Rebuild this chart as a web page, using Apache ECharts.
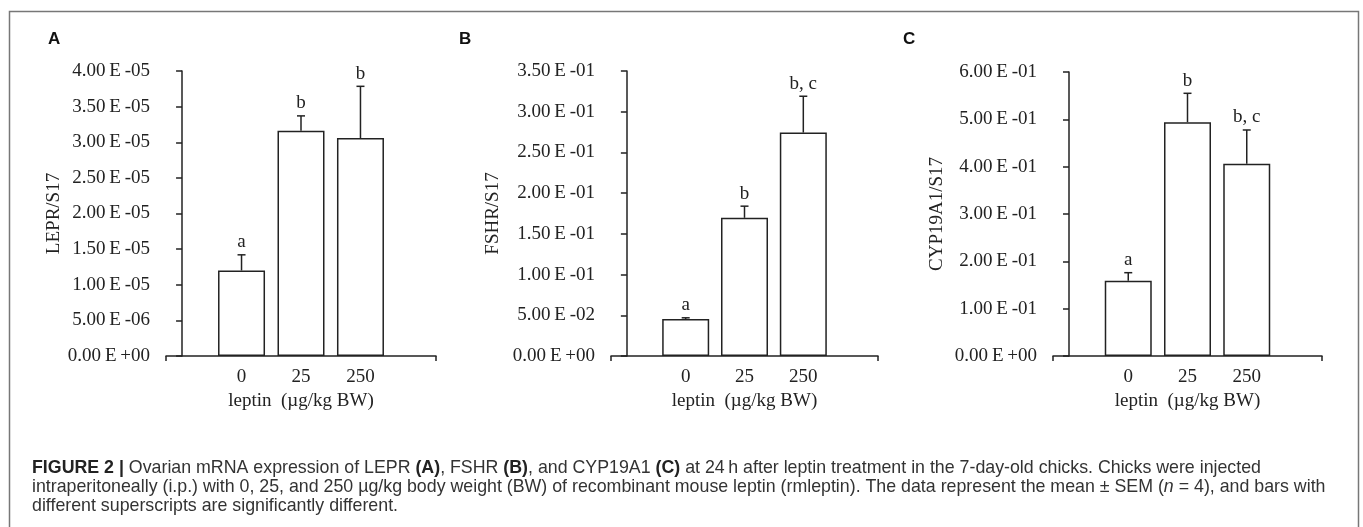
<!DOCTYPE html>
<html>
<head>
<meta charset="utf-8">
<title>Figure 2</title>
<style>
  html, body { margin: 0; padding: 0; background: #fff; }
  #main { width: 1363px; height: 527px; }
</style>
<script src="https://cdn.jsdelivr.net/npm/echarts@6/dist/echarts.min.js"></script>
</head>
<body>
<div id="main"></div>
<script>
// leptin doses (x categories)
var doses = ['0', '25', '250'];

// A: LEPR/S17
var leprMean = [1.20e-5, 3.16e-5, 3.06e-5];
var leprSem = [0.22e-5, 0.21e-5, 0.725e-5];
var leprSig = ['a', 'b', 'b'];

// B: FSHR/S17
var fshrMean = [0.0454, 0.1697, 0.2744];
var fshrSem = [0.0015, 0.0143, 0.0446];
var fshrSig = ['a', 'b', 'b, c'];

// C: CYP19A1/S17
var cypMean = [0.159, 0.494, 0.406];
var cypSem = [0.017, 0.061, 0.0715];
var cypSig = ['a', 'b', 'b, c'];

var panels = [
  { letter: 'A', name: 'LEPR/S17', mean: leprMean, sem: leprSem, sig: leprSig, max: 4e-5, step: 5e-6,
    grid: { left: 166, right: 927, top: 71, bottom: 171 }, nameGap: 102 },
  { letter: 'B', name: 'FSHR/S17', mean: fshrMean, sem: fshrSem, sig: fshrSig, max: 0.35, step: 0.05,
    grid: { left: 611, right: 485, top: 71, bottom: 171 }, nameGap: 108 },
  { letter: 'C', name: 'CYP19A1/S17', mean: cypMean, sem: cypSem, sig: cypSig, max: 0.6, step: 0.1,
    grid: { left: 1053, right: 41, top: 72, bottom: 171 }, nameGap: 106 }
];

var xMin = -0.27, xMax = 4.27;
var ink = '#222';
var serif = 'Liberation Serif';

function sci(v) {
  // Excel style 4.00E-05 (thin spaces mimic the wide original lettering)
  var s = Number(v).toExponential(2).split('e');
  var exp = parseInt(s[1], 10);
  var e = (exp < 0 ? '-' : '+') + (Math.abs(exp) < 10 ? '0' : '') + Math.abs(exp);
  return s[0] + '\u2009E\u2009' + e;
}

var myChart = echarts.init(document.getElementById('main'));

var grids = [], xAxes = [], yAxes = [], series = [], titles = [];
var letterX = [43, 454, 898];

panels.forEach(function (p, k) {
  grids.push(p.grid);
  xAxes.push({
    type: 'value', gridIndex: k, min: xMin, max: xMax,
    name: 'leptin  (\u00b5g/kg BW)', nameLocation: 'middle', nameGap: 31,
    nameTextStyle: { fontFamily: serif, fontSize: 19, color: ink },
    splitLine: { show: false },
    axisLine: { show: true, lineStyle: { color: ink, width: 1.5 } },
    axisTick: { show: true, customValues: [xMin, xMax], length: 5, lineStyle: { color: ink, width: 1.5 } },
    axisLabel: {
      customValues: [1, 2, 3], margin: 12,
      fontFamily: serif, fontSize: 19, color: ink,
      formatter: function (v) { return doses[Math.round(v) - 1]; }
    }
  });
  yAxes.push({
    type: 'value', gridIndex: k, min: 0, max: p.max, interval: p.step,
    name: p.name, nameLocation: 'middle', nameGap: p.nameGap, nameRotate: 90,
    nameTextStyle: { fontFamily: serif, fontSize: 19, color: ink },
    splitLine: { show: false },
    axisLine: { show: true, lineStyle: { color: ink, width: 1.5 } },
    axisTick: { show: true, length: 6, lineStyle: { color: ink, width: 1.5 } },
    axisLabel: { margin: 16, fontFamily: serif, fontSize: 19, color: ink, formatter: sci }
  });

  series.push({
    type: 'bar', xAxisIndex: k, yAxisIndex: k, barWidth: 47,
    itemStyle: { color: '#fff', borderColor: ink, borderWidth: 1.5 },
    data: p.mean.map(function (v, i) { return [i + 1, v]; }),
    animation: false
  });

  series.push({
    type: 'custom', xAxisIndex: k, yAxisIndex: k,
    data: p.mean.map(function (v, i) { return [i + 1, v, v + p.sem[i], i]; }),
    renderItem: function (params, api) {
      var base = api.coord([api.value(0), api.value(1)]);
      var top = api.coord([api.value(0), api.value(2)]);
      var cap = 4;
      return {
        type: 'group',
        children: [
          { type: 'line', shape: { x1: top[0], y1: base[1], x2: top[0], y2: top[1] },
            style: { stroke: ink, lineWidth: 1.5 } },
          { type: 'line', shape: { x1: top[0] - cap, y1: top[1], x2: top[0] + cap, y2: top[1] },
            style: { stroke: ink, lineWidth: 1.5 } },
          { type: 'text', x: top[0], y: top[1] - 3,
            style: { text: p.sig[api.value(3)], fontFamily: serif, fontSize: 19, fill: ink,
                     align: 'center', verticalAlign: 'bottom' } }
        ]
      };
    },
    z: 5,
    animation: false
  });

  titles.push({
    text: p.letter, left: letterX[k], top: 26,
    textStyle: { fontFamily: 'Liberation Sans', fontWeight: 'bold', fontSize: 17, color: '#111' }
  });
});

titles.push({
  left: 27, top: 454,
  text: '{b|FIGURE 2 |} Ovarian mRNA expression of LEPR {b|(A)}, FSHR {b|(B)}, and CYP19A1 {b|(C)} at 24\u2009h after leptin treatment in the 7-day-old chicks. Chicks were injected\n' +
        'intraperitoneally (i.p.) with 0, 25, and 250 \u00b5g/kg body weight (BW) of recombinant mouse leptin (rmleptin). The data represent the mean \u00b1 SEM ({i|n} = 4), and bars with\n' +
        'different superscripts are significantly different.',
  textStyle: {
    fontFamily: 'Liberation Sans', fontSize: 17.8, fontWeight: 'normal', color: '#333', lineHeight: 19,
    rich: {
      b: { fontFamily: 'Liberation Sans', fontSize: 17.8, fontWeight: 'bold', color: '#222', lineHeight: 19 },
      i: { fontFamily: 'Liberation Sans', fontSize: 17.8, fontStyle: 'italic', color: '#333', lineHeight: 19 }
    }
  }
});

myChart.setOption({
  animation: false,
  title: titles,
  grid: grids,
  xAxis: xAxes,
  yAxis: yAxes,
  series: series,
  graphic: [{
    type: 'rect', left: 7, top: 9, silent: true,
    shape: { width: 1349, height: 560 },
    style: { fill: 'none', stroke: '#777', lineWidth: 1.5 }
  }]
});
</script>
</body>
</html>
